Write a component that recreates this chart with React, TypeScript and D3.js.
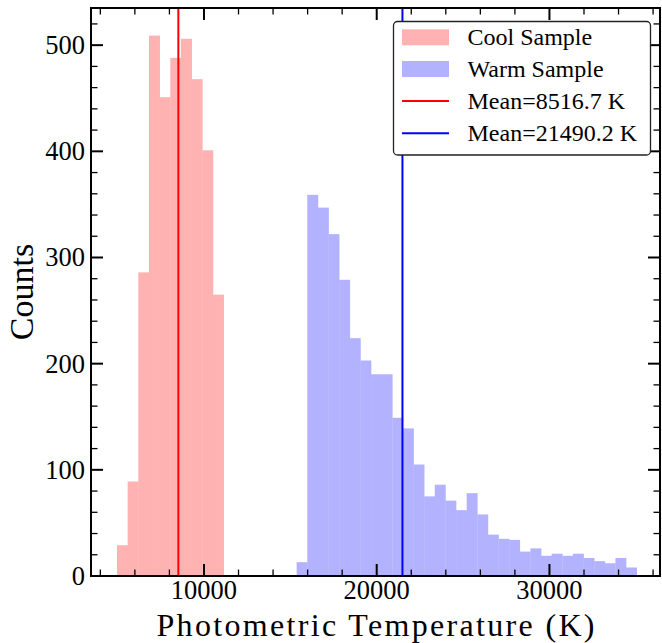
import { useEffect, useRef } from "react";
import * as d3 from "d3";

// histogram counts
const coolCounts = [29, 89, 286, 509, 451, 488, 506, 468, 401, 265];
const coolRange = [4964, 11140];
const warmCounts = [
  13, 359, 347, 322, 279, 224, 203, 190, 190, 149, 139, 105, 75, 86, 71, 62,
  78, 58, 39, 35, 34, 23, 26, 19, 21, 19, 21, 17, 14, 12, 17, 8,
];
const warmRange = [15366, 35050];
const means = [8516.7, 21490.2];
const legendLabels = ["Cool Sample", "Warm Sample", "Mean=8516.7 K", "Mean=21490.2 K"];
const xMajor = [10000, 20000, 30000];
const yMajor = [0, 100, 200, 300, 400, 500];

const FONT = "Liberation Serif, DejaVu Serif, Liberation Sans, sans-serif";

const toBins = (counts: number[], range: number[]) => {
  const w = (range[1] - range[0]) / counts.length;
  return counts.map((c, i) => ({ x0: range[0] + i * w, x1: range[0] + (i + 1) * w, c }));
};

const App = () => {
  const ref = useRef<SVGSVGElement>(null);

  useEffect(() => {
    const left = 91,
      right = 660,
      top = 8,
      bottom = 576;

    const svg = d3.select(ref.current);
    svg.selectAll("*").remove();

    const x = d3.scaleLinear().domain([3460, 36400]).range([left, right]);
    const y = d3.scaleLinear().domain([0, 535]).range([bottom, top]);

    // bars
    const drawBars = (counts: number[], range: number[], fill: string) => {
      svg
        .append("g")
        .selectAll("rect")
        .data(toBins(counts, range))
        .enter()
        .append("rect")
        .attr("x", (d) => x(d.x0))
        .attr("width", (d) => x(d.x1) - x(d.x0) + 0.3)
        .attr("y", (d) => y(d.c))
        .attr("height", (d) => y(0) - y(d.c))
        .attr("fill", fill);
    };
    drawBars(coolCounts, coolRange, "#ffb2b2");
    drawBars(warmCounts, warmRange, "#b2b2ff");

    // mean lines
    const lineColors = ["#ff0000", "#0000ff"];
    means.forEach((m, i) => {
      svg
        .append("line")
        .attr("x1", x(m))
        .attr("x2", x(m))
        .attr("y1", top)
        .attr("y2", bottom)
        .attr("stroke", lineColors[i])
        .attr("stroke-width", 2);
    });

    // ticks (inward, all four sides)
    const majorLen = 12;
    const minorLen = 6.5;
    const xMinor = d3.range(4000, 36001, 2000).filter((v) => !xMajor.includes(v));
    const yMinor = d3.range(20, 535, 20).filter((v) => !yMajor.includes(v));
    const ticks = svg.append("g").attr("stroke", "#000");
    const tickX = (vals: number[], len: number, w: number) => {
      vals.forEach((v) => {
        ticks.append("line").attr("x1", x(v)).attr("x2", x(v)).attr("y1", bottom).attr("y2", bottom - len).attr("stroke-width", w);
        ticks.append("line").attr("x1", x(v)).attr("x2", x(v)).attr("y1", top).attr("y2", top + len).attr("stroke-width", w);
      });
    };
    const tickY = (vals: number[], len: number, w: number) => {
      vals.forEach((v) => {
        ticks.append("line").attr("x1", left).attr("x2", left + len).attr("y1", y(v)).attr("y2", y(v)).attr("stroke-width", w);
        ticks.append("line").attr("x1", right).attr("x2", right - len).attr("y1", y(v)).attr("y2", y(v)).attr("stroke-width", w);
      });
    };
    tickX(xMajor, majorLen, 2);
    tickX(xMinor, minorLen, 1.3);
    tickY(yMajor, majorLen, 2);
    tickY(yMinor, minorLen, 1.3);

    // frame
    svg
      .append("rect")
      .attr("x", left)
      .attr("y", top)
      .attr("width", right - left)
      .attr("height", bottom - top)
      .attr("fill", "none")
      .attr("stroke", "#000")
      .attr("stroke-width", 2);

    // tick labels
    svg
      .append("g")
      .selectAll("text")
      .data(xMajor)
      .enter()
      .append("text")
      .attr("x", (d) => x(d))
      .attr("y", 599)
      .attr("text-anchor", "middle")
      .attr("font-family", FONT)
      .attr("font-size", 26.5)
      .text((d) => String(d));

    svg
      .append("g")
      .selectAll("text")
      .data(yMajor)
      .enter()
      .append("text")
      .attr("x", left - 6)
      .attr("y", (d) => y(d) + 9)
      .attr("text-anchor", "end")
      .attr("font-family", FONT)
      .attr("font-size", 26.5)
      .text((d) => String(d));

    // axis labels
    svg
      .append("text")
      .attr("x", (left + right) / 2)
      .attr("y", 636)
      .attr("text-anchor", "middle")
      .attr("font-family", FONT)
      .attr("font-size", 32)
      .attr("textLength", 438)
      .attr("lengthAdjust", "spacing")
      .text("Photometric Temperature (K)");

    svg
      .append("text")
      .attr("transform", `translate(33, ${(top + bottom) / 2}) rotate(-90)`)
      .attr("text-anchor", "middle")
      .attr("font-family", FONT)
      .attr("font-size", 34)
      .text("Counts");

    // legend
    const lg = svg.append("g");
    lg.append("rect")
      .attr("x", 393.5)
      .attr("y", 21.5)
      .attr("width", 257)
      .attr("height", 133.5)
      .attr("rx", 4)
      .attr("fill", "#fff")
      .attr("stroke", "#222")
      .attr("stroke-width", 1.3);

    const rowY = [37.3, 69, 101, 133.3];
    const swatch = ["#ffb2b2", "#b2b2ff", "#ff0000", "#0000ff"];
    legendLabels.forEach((label, i) => {
      if (i < 2) {
        lg.append("rect")
          .attr("x", 402)
          .attr("y", rowY[i] - 8)
          .attr("width", 47)
          .attr("height", 16)
          .attr("fill", swatch[i]);
      } else {
        lg.append("line")
          .attr("x1", 402)
          .attr("x2", 449)
          .attr("y1", rowY[i])
          .attr("y2", rowY[i])
          .attr("stroke", swatch[i])
          .attr("stroke-width", 2);
      }
      lg.append("text")
        .attr("x", 467.5)
        .attr("y", rowY[i] + 8)
        .attr("font-family", FONT)
        .attr("font-size", 24)
        .text(label);
    });
  }, []);

  return (
    <div style={{ position: "absolute", left: 0, top: 0 }}>
      <svg ref={ref} width={662} height={643} style={{ display: "block" }}></svg>
    </div>
  );
};

export default App;
